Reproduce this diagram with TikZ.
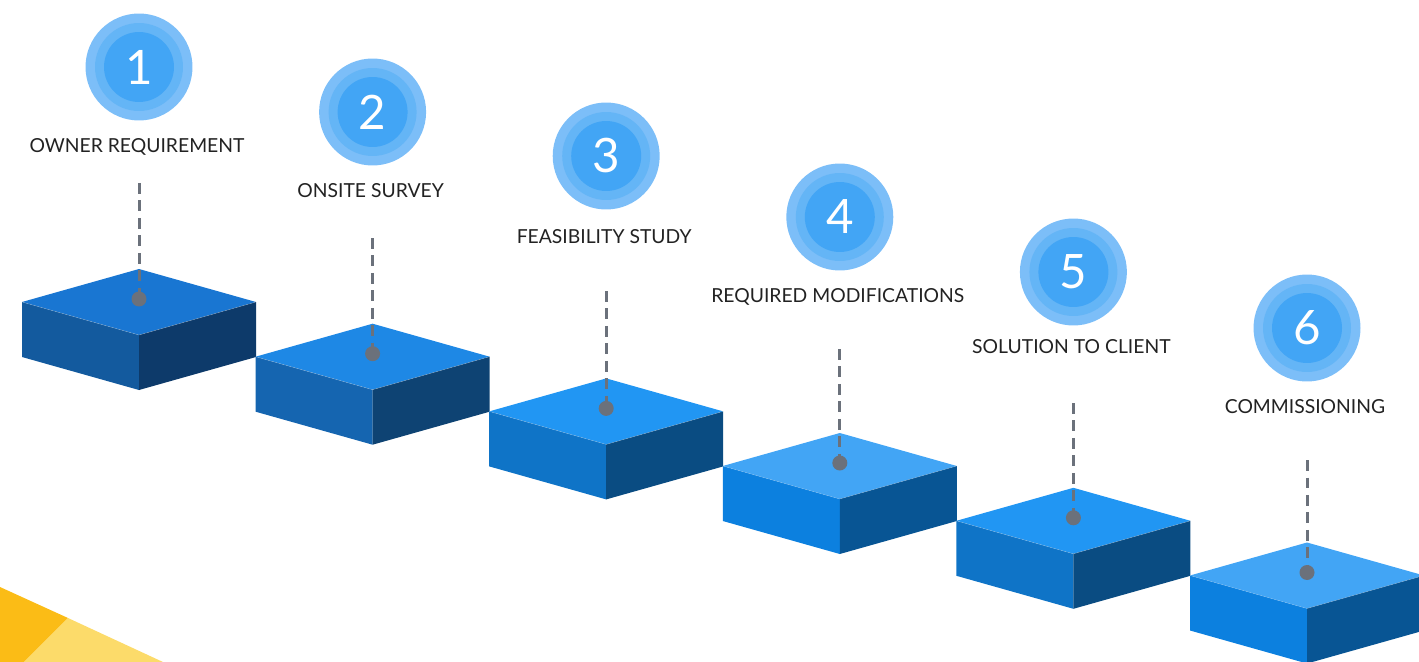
\documentclass[tikz,border=0pt]{standalone}
\usepackage{fontspec}
\setmainfont{Lato}
\usetikzlibrary{positioning}
\usepackage[]{xcolor}
\definecolor{ringout}{HTML}{7CBEF8}
\definecolor{ringmid}{HTML}{64B5F6}
\definecolor{ringin}{HTML}{42A5F5}
\definecolor{labelgray}{HTML}{222222}
\definecolor{leadgray}{HTML}{6B717B}
\definecolor{topA}{HTML}{1976D2}
\definecolor{leftA}{HTML}{135A9E}
\definecolor{rightA}{HTML}{0D3A6A}
\definecolor{topB}{HTML}{1E88E5}
\definecolor{leftB}{HTML}{1565B0}
\definecolor{rightB}{HTML}{0E4373}
\definecolor{topC}{HTML}{2196F3}
\definecolor{leftC}{HTML}{0F74C7}
\definecolor{rightC}{HTML}{0A4C82}
\definecolor{topD}{HTML}{42A5F5}
\definecolor{leftD}{HTML}{0C80DF}
\definecolor{rightD}{HTML}{085594}
\definecolor{yellowdark}{HTML}{FBBC16}
\definecolor{yellowlight}{HTML}{FCDB6A}
\tikzset{
	numcircle/.style={circle,inner sep=0pt,minimum size=1.4cm,fill=ringin,text=white,font=\fontsize{27}{27}\selectfont},
	steplabel/.style={inner sep=0pt,anchor=base,text=labelgray,font=\fontsize{11}{13}\selectfont},
	dot/.style={circle,inner sep=0pt,minimum size=0.3cm,fill=leadgray},
	leader/.style={draw=leadgray,line width=0.06cm,dash pattern=on 0.22cm off 0.13cm}
	}
% one isometric step: top vertex (#1,#2), colours top/left/right
\newcommand{\stepblock}[5]{%
	\fill[#3] (#1,#2) -- ++(117,33) -- ++(-117,33) -- ++(-117,-33) -- cycle;
	\fill[#4] (#1,#2) ++(-117,33) -- ++(117,33) -- ++(0,55) -- ++(-117,-33) -- cycle;
	\fill[#5] (#1,#2) ++(0,66) -- ++(117,-33) -- ++(0,55) -- ++(-117,33) -- cycle;
	\draw[white, opacity=0.35, line width=0.2pt] (#1,#2) ++(-117,33) -- ++(117,33) -- ++(117,-33);
}

\begin{document}
\begin{tikzpicture}[x=0.02cm, y=-0.02cm]
	\useasboundingbox (0,0) rectangle (1419,662);
	\clip (0,0) rectangle (1419,662);

	% corner decoration
	\fill[yellowdark] (0,587) -- (68,618) -- (24,662) -- (0,662) -- cycle;
	\fill[yellowlight] (68,618) -- (163,662) -- (24,662) -- cycle;

	\foreach \i/\bx/\by/\cy/\ly/\ty/\lab/\ct/\cl/\cr in {
		1/139/269/67/146/183/OWNER REQUIREMENT/topA/leftA/rightA,
		2/372.6/323.7/112/191/238/ONSITE SURVEY/topB/leftB/rightB,
		3/606.2/378.4/156/237/291/FEASIBILITY STUDY/topC/leftC/rightC,
		4/839.8/433/217/296/349/REQUIRED MODIFICATIONS/topD/leftD/rightD,
		5/1073.4/487.8/272/347/403/SOLUTION TO CLIENT/topC/leftC/rightC,
		6/1307/542.5/328/407/460/COMMISSIONING/topD/leftD/rightD}{
		\stepblock{\bx}{\by}{\ct}{\cl}{\cr}
		\fill[ringout] (\bx,\cy) circle (1.07cm);
		\fill[ringmid] (\bx,\cy) circle (0.88cm);
		\node[numcircle] (c\i) at (\bx,\cy) {\i};
		\node[steplabel] (l\i) at (\bx-2,\ly+6.5) {\lab};
		\coordinate (t\i) at (\bx,\ty);
		\node[dot] (d\i) at (\bx,\by+30) {};
		\draw[leader] (t\i) -- (d\i.center);
	}
\end{tikzpicture}
\end{document}
